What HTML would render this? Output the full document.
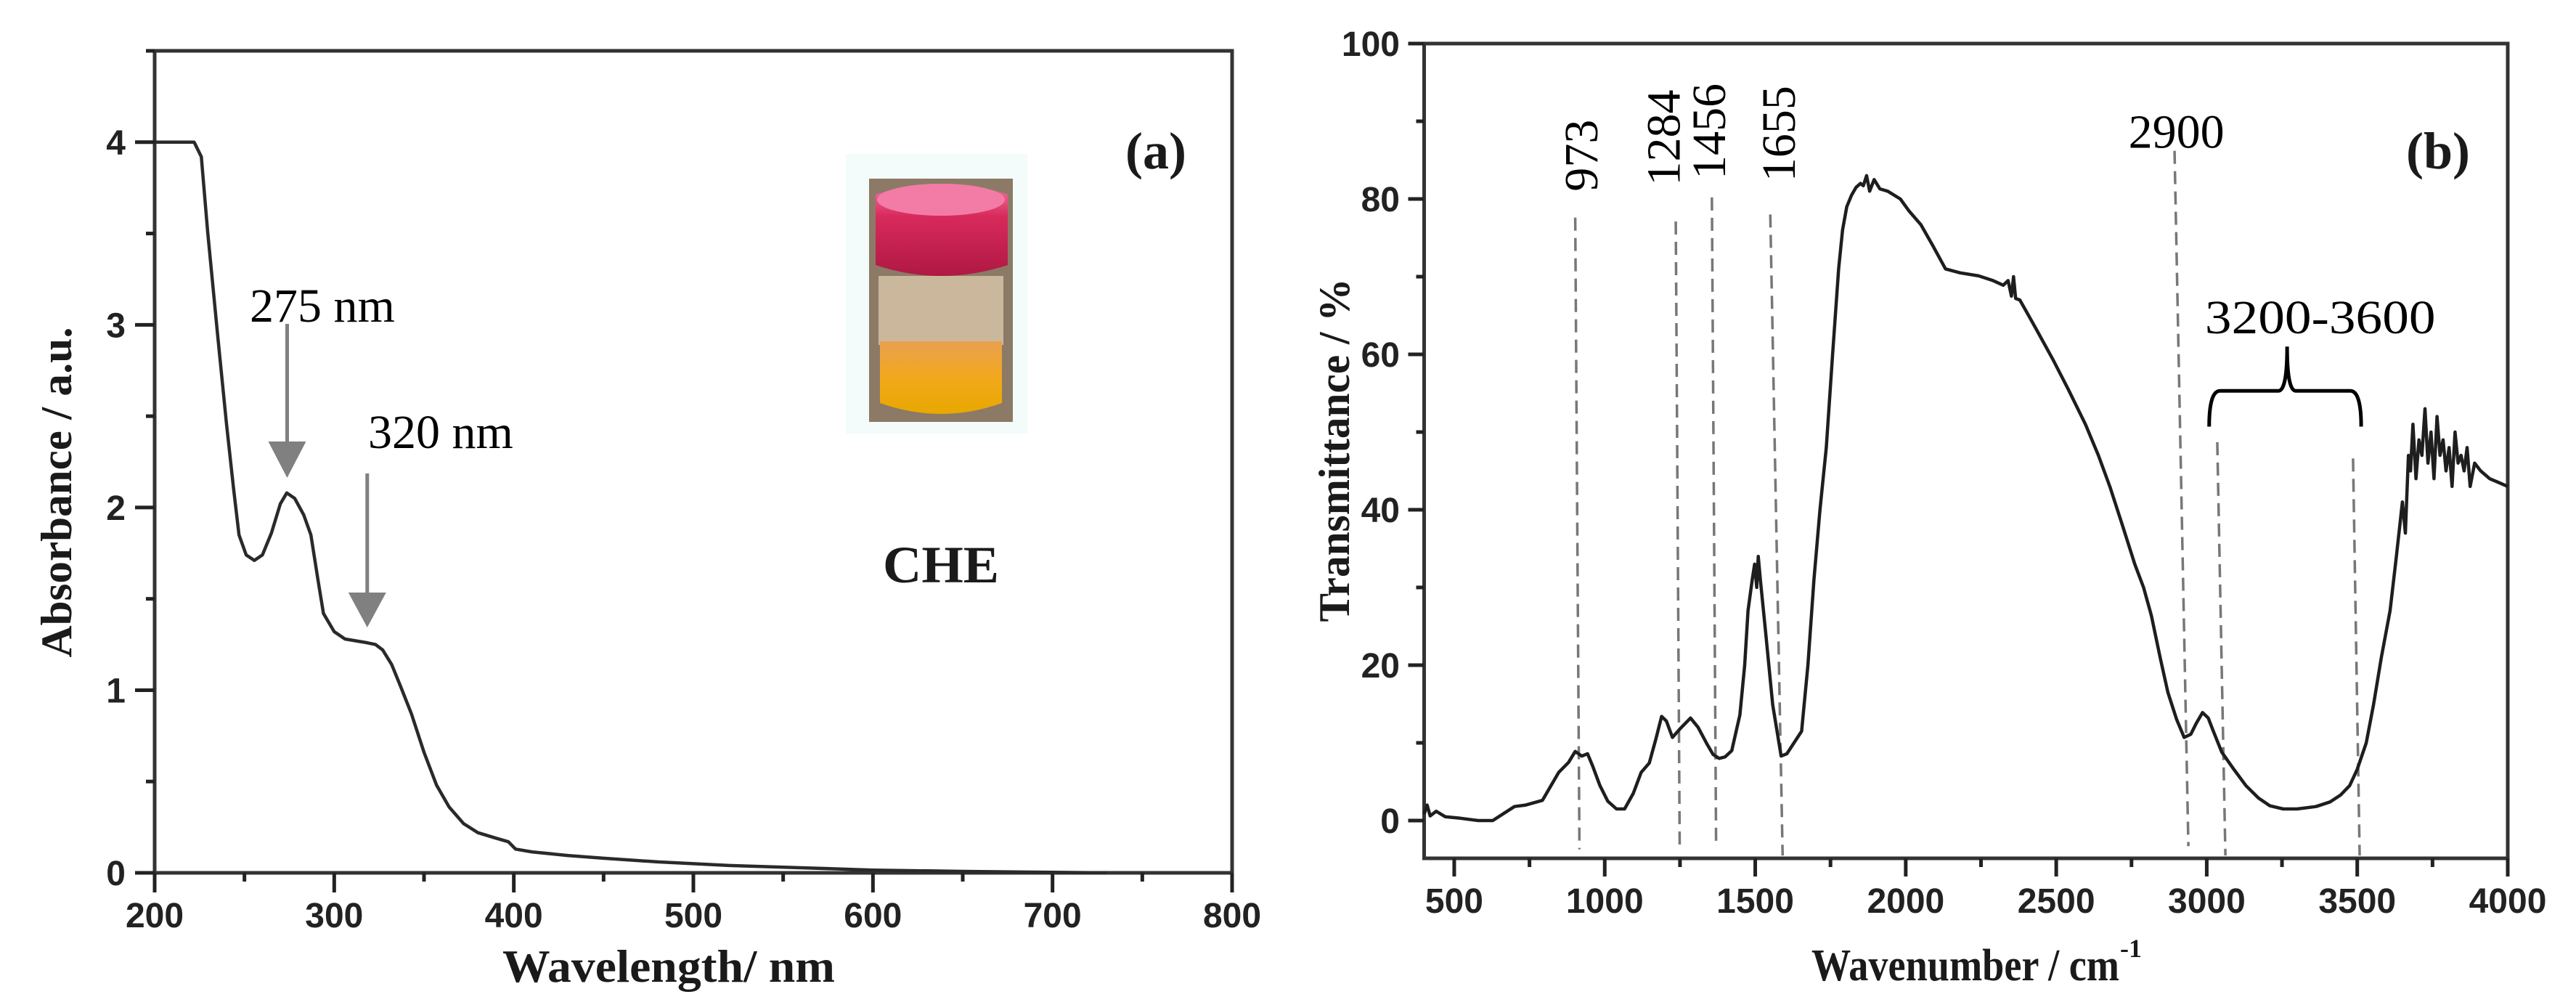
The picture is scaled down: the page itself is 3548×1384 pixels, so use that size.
<!DOCTYPE html>
<html><head><meta charset="utf-8"><title>CHE UV-Vis and FTIR spectra</title>
<style>
html,body{margin:0;padding:0;background:#fff;}
svg{display:block;}
.tick{font-family:"Liberation Sans",sans-serif;font-weight:bold;font-size:48px;fill:#222;}
.title{font-family:"Liberation Serif",serif;font-weight:bold;fill:#1a1a1a;}
.ann{font-family:"Liberation Serif",serif;font-size:66px;fill:#000;}
</style></head>
<body>
<svg id="fig" width="3548" height="1384" viewBox="0 0 3548 1384" xmlns="http://www.w3.org/2000/svg">
  <g id="panelA"></g>
  <g id="panelB"></g>
</svg>
<script>
// ---------- Panel (a) data ----------
const uvWavelength = [200,210,222,226,229.5,235,240,244,247,251,255.5,260,265,270,273.6,278,283,287,291,294,300,306,312,318,323,327,332,337,343,350,357,364,372,380,390,397,401,410,430,450,480,520,560,600,650,700,730];
const uvAbsorb     = [4.0,4.0,4.0,3.92,3.51,2.95,2.46,2.1,1.85,1.74,1.71,1.74,1.86,2.02,2.08,2.05,1.96,1.85,1.6,1.42,1.32,1.28,1.27,1.26,1.25,1.22,1.14,1.02,0.87,0.66,0.48,0.36,0.27,0.22,0.19,0.17,0.13,0.115,0.095,0.08,0.06,0.04,0.028,0.015,0.008,0.003,0.0];
const aXTicks = [200,300,400,500,600,700,800];
const aYTicks = [0,1,2,3,4];
// ---------- Panel (b) data ----------
const irWavenumber = [400,410,420,440,470,520,580,628,700,738,793,847,880,902,924,943,960,984,1010,1039,1066,1095,1121,1148,1170,1189,1205,1225,1250,1285,1310,1339,1360,1380,1400,1422,1449,1465,1476,1490,1498,1505,1510,1517,1535,1558,1586,1605,1627,1654,1675,1695,1715,1736,1757,1777,1790,1804,1820,1835,1850,1859,1870,1880,1895,1914,1940,1982,2010,2050,2090,2132,2180,2242,2290,2324,2340,2351,2358,2365,2379,2430,2488,2540,2597,2640,2679,2720,2761,2790,2816,2845,2871,2900,2925,2947,2965,2986,3005,3021,3050,3090,3130,3172,3210,3254,3300,3363,3410,3445,3475,3500,3530,3554,3580,3609,3630,3650,3660,3670,3677,3685,3695,3705,3715,3725,3735,3745,3755,3765,3775,3785,3795,3805,3815,3825,3835,3845,3855,3865,3875,3890,3910,3940,3970,4000];
const irTrans      = [0.8,2.0,0.6,1.2,0.5,0.3,0,0,1.8,2.0,2.6,6.2,7.5,8.9,8.3,8.6,7.0,4.5,2.5,1.5,1.5,3.5,6.2,7.4,10.5,13.4,12.8,10.7,11.8,13.2,12.0,9.9,8.5,8.0,8.2,9.0,13.6,20,27,31,33,30,34,31,24,14.9,8.3,8.6,9.9,11.5,20,31,40,48,60,71,76,79,80.5,81.5,82,81.7,83,81,82.5,81.3,81,80,78.5,76.7,74,71,70.5,70.1,69.5,68.9,69.5,67.5,70,67.2,67,63.5,59.4,55.5,51,47,42.9,38,33,30,26.4,21,16.5,13,10.7,11.1,12.5,13.9,13.2,11.6,8.8,6.6,4.5,2.9,1.9,1.5,1.5,1.8,2.4,3.3,4.5,6.6,10,14.9,21,27,34,41,37,47,45,51,44,49,47,53,46,50,44,52,47,49,45,48,43,50,46,47,45,48,43,46,45,44,43.5,43,42];
const bXTicks = [500,1000,1500,2000,2500,3000,3500,4000];
const bYTicks = [0,20,40,60,80,100];
const peakLabels = ["973","1284","1456","1655"];
const peakLabelW = [924,1197,1348,1580];
const peakLabelT = [85.6,87.9,88.7,88.4];
const dashTopW = [902,1236,1356,1550,2893,3035,3486];
const dashTopT = [77.6,77.1,80.2,78,86.2,48.7,46.6];
const dashBotW = [916,1249,1370,1591,2939,3062,3508];
const dashBotT = [-3.7,-3.3,-3.3,-4.5,-3.3,-4.5,-4.5];

const NS="http://www.w3.org/2000/svg";
function mk(tag,parent,attrs){const e=document.createElementNS(NS,tag);for(const k in attrs)e.setAttribute(k,attrs[k]);parent.appendChild(e);return e;}

// ---------- Panel (a) ----------
(function(){
  const g=document.getElementById('panelA');
  const L=213,R=1697,T=70,B=1202;
  const xs=v=>L+(v-200)/600*(R-L);
  const ys=v=>B-v/4.5*(B-T);
  // frame
  const frame=mk('rect',g,{x:L,y:T,width:R-L,height:B-T,fill:'none',stroke:'#333','stroke-width':5});
  
  
  // x ticks
  for(let v=200;v<=800;v+=50){
    const major=(v%100===0);
    const t=mk('line',g,{x1:xs(v),x2:xs(v),y1:B,y2:B+(major?27:12),stroke:'#222','stroke-width':5});
    
    
  }
  aXTicks.forEach(v=>{
    const tx=mk('text',g,{x:xs(v),y:1277,'text-anchor':'middle',class:'tick'});
    tx.textContent=v;
    
    
  });
  for(let v=0;v<=4.5;v+=0.5){
    const major=Number.isInteger(v);
    const t=mk('line',g,{x1:L,x2:L-(major?27:12),y1:ys(v),y2:ys(v),stroke:'#222','stroke-width':5});
    
    
  }
  aYTicks.forEach(v=>{
    const tx=mk('text',g,{x:173,y:ys(v)+17,'text-anchor':'end',class:'tick'});
    tx.textContent=v;
    
    
  });
  // axis titles
  const yt=mk('text',g,{x:0,y:0,class:'title','font-size':60,'text-anchor':'middle',transform:'translate(98,678) rotate(-90)',textLength:455,lengthAdjust:'spacingAndGlyphs'});
  yt.textContent='Absorbance / a.u.';
  
  
  const xt=mk('text',g,{x:921,y:1352,class:'title','font-size':64,'text-anchor':'middle',textLength:458,lengthAdjust:'spacingAndGlyphs'});
  xt.textContent='Wavelength/ nm';
  
  
  // curve
  const d=uvWavelength.map((w,i)=>(i?'L':'M')+xs(w).toFixed(1)+','+ys(uvAbsorb[i]).toFixed(1)).join(' ');
  const p=mk('path',g,{d:d,fill:'none',stroke:'#2a2a2a','stroke-width':4.5,'stroke-linejoin':'round'});
  
  
  // annotations
  const arrows=[[275,'275 nm',344,443,446,608,658],[320,'320 nm',507,617,652,816,864]];
  arrows.forEach(a=>{
    const ax=xs(a[0])+ (a[0]===275? -3:-4);
    const tx=mk('text',g,{x:a[2],y:a[3],class:'ann'});
    tx.textContent=a[1];
    
    
    const ln=mk('line',g,{x1:ax,x2:ax,y1:a[4],y2:a[5],stroke:'#808080','stroke-width':5});
    
    
    const hd=mk('polygon',g,{points:(ax-26)+','+a[5]+' '+(ax+26)+','+a[5]+' '+ax+','+a[6],fill:'#808080'});
    
    
  });
  const lab=mk('text',g,{x:1550,y:232,class:'title','font-size':72});
  lab.textContent='(a)';
  
  
  const che=mk('text',g,{x:1296,y:802,class:'title','font-size':72,'text-anchor':'middle',textLength:160,lengthAdjust:'spacingAndGlyphs'});
  che.textContent='CHE';
  
  
  // vial photo
  const ph=mk('g',g,{});
  
  
  const defs=mk('defs',ph,{});
  const g1=mk('linearGradient',defs,{id:'capG',x1:0,y1:0,x2:0,y2:1});
  mk('stop',g1,{offset:'0','stop-color':'#f57aa8'});mk('stop',g1,{offset:'0.35','stop-color':'#d82a5c'});mk('stop',g1,{offset:'1','stop-color':'#b01844'});
  const g2=mk('linearGradient',defs,{id:'liqG',x1:0,y1:0,x2:0,y2:1});
  mk('stop',g2,{offset:'0','stop-color':'#e9a050'});mk('stop',g2,{offset:'0.5','stop-color':'#f2a81c'});mk('stop',g2,{offset:'1','stop-color':'#e8a800'});
  mk('rect',ph,{x:1165,y:212,width:250,height:385,fill:'#f3fbfb'});
  mk('rect',ph,{x:1197,y:246,width:198,height:335,fill:'#8c7a66'});
  mk('rect',ph,{x:1210,y:380,width:172,height:95,fill:'#cbb89c'});
  mk('path',ph,{d:'M1212,470 L1380,470 L1380,555 Q1296,585 1212,555 Z',fill:'url(#liqG)'});
  mk('path',ph,{d:'M1206,268 Q1296,238 1388,268 L1388,365 Q1296,395 1206,365 Z',fill:'url(#capG)'});
  mk('ellipse',ph,{cx:1296,cy:275,rx:88,ry:22,fill:'#f27ca6'});
})();

// ---------- Panel (b) ----------
(function(){
  const g=document.getElementById('panelB');
  const L=1961.5,R=3454,T=60,B=1182;
  const xs=v=>L+(v-400)*(R-L)/3600;
  const ys=v=>1130-v*10.7;
  const frame=mk('rect',g,{x:L,y:T,width:R-L,height:B-T,fill:'none',stroke:'#333','stroke-width':5});
  
  
  for(let v=500;v<=4000;v+=250){
    const major=(v%500===0);
    const t=mk('line',g,{x1:xs(v),x2:xs(v),y1:B,y2:B+(major?25:12),stroke:'#222','stroke-width':5});
    
    
  }
  bXTicks.forEach(v=>{
    const tx=mk('text',g,{x:xs(v),y:1257,'text-anchor':'middle',class:'tick'});
    tx.textContent=v;
    
    
  });
  for(let v=0;v<=100;v+=10){
    const major=(v%20===0);
    const t=mk('line',g,{x1:L,x2:L-(major?22:11),y1:ys(v),y2:ys(v),stroke:'#222','stroke-width':5});
    
    
  }
  bYTicks.forEach(v=>{
    const tx=mk('text',g,{x:1928,y:ys(v)+17,'text-anchor':'end',class:'tick'});
    tx.textContent=v;
    
    
  });
  const yt=mk('text',g,{x:0,y:0,class:'title','font-size':60,'text-anchor':'middle',transform:'translate(1858,620) rotate(-90)',textLength:473,lengthAdjust:'spacingAndGlyphs'});
  yt.textContent='Transmittance / %';
  
  
  const xt=mk('text',g,{x:2495,y:1350,class:'title','font-size':62,textLength:424,lengthAdjust:'spacingAndGlyphs'});
  xt.textContent='Wavenumber / cm';
  
  
  const sup=mk('text',g,{x:2920,y:1318,class:'title','font-size':36});
  sup.textContent='-1';
  
  
  // dashed lines
  dashTopW.forEach((w,i)=>{
    const l=mk('line',g,{x1:xs(w),y1:ys(dashTopT[i]),x2:xs(dashBotW[i]),y2:ys(dashBotT[i]),stroke:'#777','stroke-width':3.5,'stroke-dasharray':'18 10'});
    
    
  });
  // curve
  const d=irWavenumber.map((w,i)=>(i?'L':'M')+xs(w).toFixed(1)+','+ys(irTrans[i]).toFixed(1)).join(' ');
  const p=mk('path',g,{d:d,fill:'none',stroke:'#1e1e1e','stroke-width':4.5,'stroke-linejoin':'round'});
  
  
  // peak labels
  peakLabels.forEach((s,i)=>{
    const cx=xs(peakLabelW[i]), cy=ys(peakLabelT[i]);
    const tx=mk('text',g,{x:0,y:0,class:'ann','text-anchor':'middle','dominant-baseline':'central',transform:'translate('+cx.toFixed(1)+','+cy.toFixed(1)+') rotate(-90)'});
    tx.textContent=s;
    
    
  });
  const t29=mk('text',g,{x:xs(2740),y:ys(86.6),class:'ann'});
  t29.textContent='2900';
  
  
  const t32=mk('text',g,{x:xs(2994),y:ys(62.7),class:'ann',textLength:xs(3760)-xs(2994),lengthAdjust:'spacingAndGlyphs'});
  t32.textContent='3200-3600';
  
  
  const bx1=xs(3008),bx2=xs(3513),bm=xs(3267),by0=ys(50.7),by1=ys(55.3),byt=ys(61);
  const br=mk('path',g,{d:`M${bx1},${by0} Q${bx1},${by1} ${bx1+15},${by1} L${bm-12},${by1} Q${bm},${by1} ${bm},${byt} Q${bm},${by1} ${bm+12},${by1} L${bx2-15},${by1} Q${bx2},${by1} ${bx2},${by0}`,fill:'none',stroke:'#000','stroke-width':5});
  
  
  const lab=mk('text',g,{x:3314,y:232,class:'title','font-size':72});
  lab.textContent='(b)';
  
  
})();
</script>
</body></html>
